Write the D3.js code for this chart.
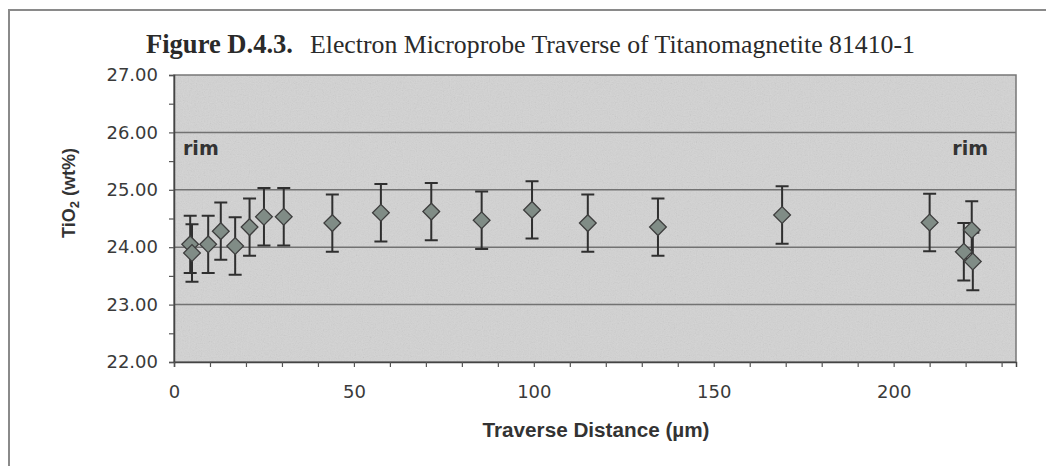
<!DOCTYPE html>
<html>
<head>
<meta charset="utf-8">
<script src="https://cdn.jsdelivr.net/npm/d3@7"></script>
<style>
  html, body { margin: 0; padding: 0; background: #ffffff; }
  svg { display: block; }
</style>
</head>
<body>
<svg id="chart" width="1046" height="466"></svg>
<script>
// Traverse positions (µm) and TiO2 contents (wt%) with ±error
const distance = [4.5, 5, 9.5, 13, 17, 21, 25, 30.5, 44, 57.5, 71.5, 85.5, 99.5, 115, 134.5, 169, 210, 219.5, 221.7, 222];
const tio2     = [24.05, 23.9, 24.05, 24.28, 24.02, 24.35, 24.53, 24.53, 24.42, 24.6, 24.62, 24.47, 24.65, 24.42, 24.35, 24.56, 24.43, 23.92, 24.3, 23.75];
const errorBar = [0.5, 0.5, 0.5, 0.5, 0.5, 0.5, 0.5, 0.5, 0.5, 0.5, 0.5, 0.5, 0.5, 0.5, 0.5, 0.5, 0.5, 0.5, 0.5, 0.5];
const yTicks = [22, 23, 24, 25, 26, 27];
const xTickLabels = [0, 50, 100, 150, 200];

const svg = d3.select("#chart");
const margin = { left: 174, top: 75, right: 1016, bottom: 362 };

const x = d3.scaleLinear().domain([0, 234]).range([margin.left, margin.right]);
const y = d3.scaleLinear().domain([22, 27]).range([margin.bottom, margin.top]);

const sans = "Liberation Sans, Arial, sans-serif";
const wide = "DejaVu Sans, Verdana, sans-serif";

// grain for the plot background
const defs = svg.append("defs");
const f = defs.append("filter").attr("id", "grain").attr("x", 0).attr("y", 0).attr("width", 1).attr("height", 1);
f.append("feTurbulence").attr("type", "fractalNoise").attr("baseFrequency", 0.85).attr("numOctaves", 2).attr("seed", 3);
f.append("feColorMatrix").attr("type", "saturate").attr("values", 0);

// outer frame
svg.append("path")
  .attr("d", "M9,466 L9,10 L1046,10")
  .attr("fill", "none").attr("stroke", "#8a8a8a").attr("stroke-width", 2);

// plot area
const plotW = margin.right - margin.left, plotH = margin.bottom - margin.top;
svg.append("rect")
  .attr("x", margin.left).attr("y", margin.top).attr("width", plotW).attr("height", plotH)
  .attr("fill", "#d3d3d3");
svg.append("rect")
  .attr("x", margin.left).attr("y", margin.top).attr("width", plotW).attr("height", plotH)
  .attr("filter", "url(#grain)").attr("opacity", 0.2);

// horizontal gridlines
svg.append("g").selectAll("line").data(yTicks.slice(1, -1)).join("line")
  .attr("x1", margin.left).attr("x2", margin.right)
  .attr("y1", d => y(d)).attr("y2", d => y(d))
  .attr("stroke", "#727272").attr("stroke-width", 1.5);

// plot border
svg.append("rect")
  .attr("x", margin.left).attr("y", margin.top).attr("width", plotW).attr("height", plotH)
  .attr("fill", "none").attr("stroke", "#777").attr("stroke-width", 1.5);

// y axis
const yAxis = d3.axisLeft(y)
  .tickValues(d3.range(22, 27.01, 0.5))
  .tickSize(5)
  .tickFormat(d => Number.isInteger(d) ? d3.format(".2f")(d) : "");
const gy = svg.append("g").attr("transform", `translate(${margin.left},0)`).call(yAxis);
gy.select(".domain").attr("stroke", "#444").attr("stroke-width", 1.5);
gy.selectAll(".tick line").attr("stroke", "#555").attr("stroke-width", 1.2);
gy.selectAll(".tick text")
  .attr("x", -16)
  .attr("font-family", wide).attr("font-size", 18).attr("fill", "#3a3a3a");

// x axis
const xAxis = d3.axisBottom(x)
  .tickValues(d3.range(0, 231, 10))
  .tickSize(5)
  .tickFormat(d => xTickLabels.includes(d) ? d : "");
const gx = svg.append("g").attr("transform", `translate(0,${margin.bottom})`).call(xAxis);
gx.select(".domain").attr("stroke", "#444").attr("stroke-width", 1.5);
gx.selectAll(".tick line").attr("stroke", "#555").attr("stroke-width", 1.2);
gx.selectAll(".tick text")
  .attr("y", 23)
  .attr("font-family", wide).attr("font-size", 18).attr("fill", "#3a3a3a");

// error bars
const pts = distance.map((d, i) => ({ d, v: tio2[i], e: errorBar[i] }));
const eb = svg.append("g").attr("stroke", "#2f2f2f").attr("stroke-width", 2).attr("fill", "none");
const cap = 6.5;
eb.selectAll("path").data(pts).join("path")
  .attr("d", p => {
    const cx = x(p.d), t = y(p.v + p.e), b = y(p.v - p.e);
    return `M${cx},${t}L${cx},${b}M${cx - cap},${t}L${cx + cap},${t}M${cx - cap},${b}L${cx + cap},${b}`;
  });

// diamond markers
const diamond = d3.symbol().type(d3.symbolSquare).size(140);
svg.append("g").selectAll("path").data(pts).join("path")
  .attr("d", diamond)
  .attr("transform", p => `translate(${x(p.d)},${y(p.v)}) rotate(45)`)
  .attr("fill", "#808c86").attr("stroke", "#3e3e3e").attr("stroke-width", 1.3);

// rim annotations
svg.append("text").attr("x", 183).attr("y", 155)
  .attr("font-family", wide).attr("font-weight", "bold").attr("font-size", 19).attr("fill", "#333")
  .text("rim");
svg.append("text").attr("x", 988).attr("y", 155).attr("text-anchor", "end")
  .attr("font-family", wide).attr("font-weight", "bold").attr("font-size", 19).attr("fill", "#333")
  .text("rim");

// axis titles
svg.append("text")
  .attr("transform", "translate(75,193) rotate(-90)")
  .attr("text-anchor", "middle")
  .attr("textLength", 90).attr("lengthAdjust", "spacingAndGlyphs")
  .attr("font-family", sans).attr("font-weight", "bold").attr("font-size", 18).attr("fill", "#333")
  .call(t => {
    t.append("tspan").text("TiO");
    t.append("tspan").attr("font-size", 13).attr("dy", 4).text("2");
    t.append("tspan").attr("dy", -4).text(" (wt%)");
  });
svg.append("text")
  .attr("x", 596).attr("y", 437)
  .attr("text-anchor", "middle")
  .attr("textLength", 227).attr("lengthAdjust", "spacingAndGlyphs")
  .attr("font-family", sans).attr("font-weight", "bold").attr("font-size", 19.5).attr("fill", "#333")
  .text("Traverse Distance (µm)");

// chart title
const serif = "Liberation Serif, Times New Roman, serif";
svg.append("text")
  .attr("x", 146).attr("y", 53)
  .attr("textLength", 147).attr("lengthAdjust", "spacingAndGlyphs")
  .attr("font-family", serif).attr("font-weight", "bold").attr("font-size", 27).attr("fill", "#2a2a2a")
  .text("Figure D.4.3.");
svg.append("text")
  .attr("x", 310).attr("y", 53)
  .attr("textLength", 605).attr("lengthAdjust", "spacingAndGlyphs")
  .attr("font-family", serif).attr("font-size", 26).attr("fill", "#2a2a2a")
  .text("Electron Microprobe Traverse of Titanomagnetite 81410-1");
</script>
</body>
</html>
